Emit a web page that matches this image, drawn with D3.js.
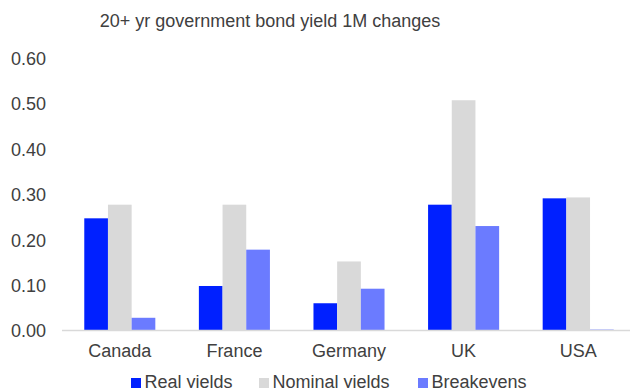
<!DOCTYPE html>
<html lang="en">
    <head>
        <meta charset="utf-8">
        <title>20+ yr government bond yield 1M changes</title>
        <script src="https://d3js.org/d3.v7.min.js"></script>
        <style type="text/css">
          body{ margin:0; background:#fff; }
          svg{ width:630px; height:388px; display:block; font-family:"Liberation Sans", Arial, sans-serif; }
        </style>
    </head>
    <body>
    	<svg></svg>

        <script type="text/javascript">

        // data
        const countries = ["Canada", "France", "Germany", "UK", "USA"];
        const seriesNames = ["Real yields", "Nominal yields", "Breakevens"];
        const realYields = [0.247, 0.098, 0.060, 0.277, 0.291];
        const nominalYields = [0.277, 0.277, 0.152, 0.507, 0.293];
        const breakevens = [0.028, 0.178, 0.092, 0.230, 0.002];
        const yTicks = [0, 0.1, 0.2, 0.3, 0.4, 0.5, 0.6];
        const colors = ["#0020ff", "#d9d9d9", "#6b7bff"];

        const svg = d3.select("svg");
        const textColor = "#404040";

        const allSeries = [realYields, nominalYields, breakevens];

        const x = d3.scaleBand()
                    .domain(countries)
                    .range([62.5, 635.5])
                    .paddingInner(0.38)
                    .paddingOuter(0.19);

        const xInner = d3.scaleBand()
                    .domain(seriesNames)
                    .range([0, x.bandwidth()]);

        const y = d3.scaleLinear()
                    .domain([0, 0.6])
                    .range([330.5, 58]);

        //title
        svg.append("text")
           .attr("x", 270)
           .attr("y", 27)
           .attr("text-anchor", "middle")
           .style("font-size", "18px")
           .style("fill", textColor)
           .text("20+ yr government bond yield 1M changes");

        //y axis labels only, no line
        const yAxis = d3.axisLeft(y)
                        .tickValues(yTicks)
                        .tickFormat(d3.format(".2f"))
                        .tickSize(0)
                        .tickPadding(0);

        svg.append("g")
           .attr("transform", "translate(46,0)")
           .call(yAxis)
           .call(g => g.select(".domain").remove())
           .selectAll("text")
           .attr("dy", "0.36em")
           .style("font-size", "18px")
           .style("font-family", "Liberation Sans, Arial, sans-serif")
           .style("fill", textColor);

        //bars
        const groups = svg.selectAll("g.group")
                          .data(countries)
                          .enter()
                          .append("g")
                          .attr("class", "group")
                          .attr("transform", d => "translate(" + x(d) + ",0)");

        groups.selectAll("rect")
              .data((d, i) => seriesNames.map((s, j) => ({ s: s, v: allSeries[j][i], c: colors[j] })))
              .enter()
              .append("rect")
              .attr("x", d => xInner(d.s))
              .attr("y", d => y(d.v))
              .attr("width", xInner.bandwidth())
              .attr("height", d => y(0) - y(d.v))
              .style("fill", d => d.c);

        //x axis
        const xAxis = d3.axisBottom(x).tickSize(0).tickPadding(0);

        svg.append("g")
           .attr("transform", "translate(0," + y(0) + ")")
           .call(xAxis)
           .call(g => g.select(".domain").attr("stroke", "#d9d9d9").attr("stroke-width", 1.5).attr("d", "M62,0H630"))
           .selectAll("text")
           .attr("y", 26.5)
           .attr("dy", 0)
           .style("font-size", "18px")
           .style("font-family", "Liberation Sans, Arial, sans-serif")
           .style("fill", textColor);

        //legend
        const legendX = [131, 259, 418];
        const legend = svg.selectAll("g.legend")
                          .data(seriesNames)
                          .enter()
                          .append("g")
                          .attr("class", "legend")
                          .attr("transform", (d, i) => "translate(" + legendX[i] + ",378)");

        legend.append("rect")
              .attr("width", 10)
              .attr("height", 10)
              .style("fill", (d, i) => colors[i]);

        legend.append("text")
              .attr("x", 13.5)
              .attr("y", 10)
              .style("font-size", "18px")
              .style("fill", textColor)
              .text(d => d);

        </script>
    </body>
</html>
